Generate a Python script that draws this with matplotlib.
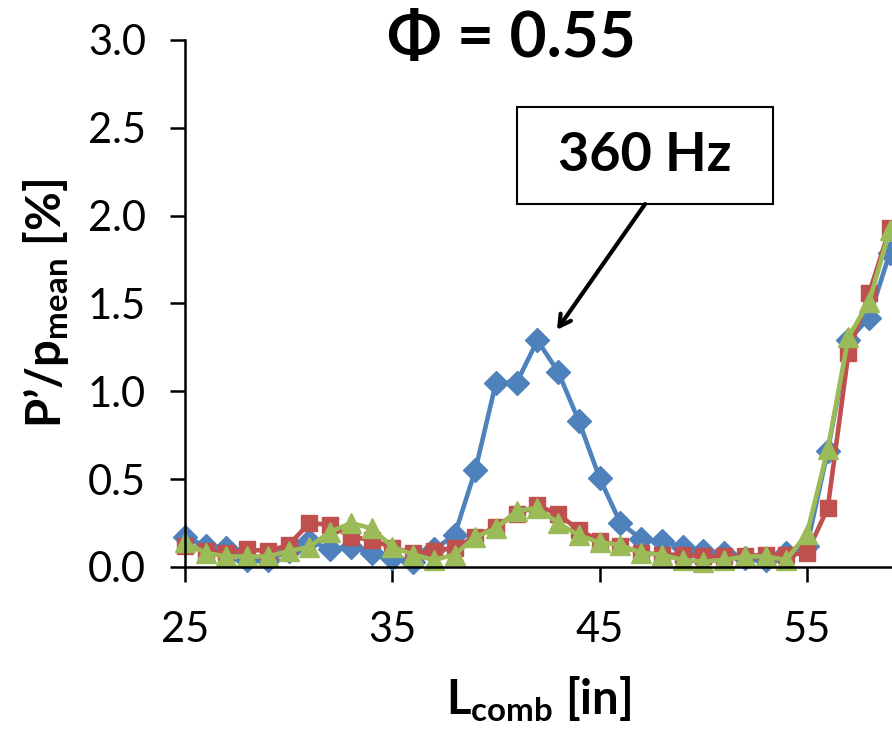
import matplotlib

matplotlib.use("Agg")

import matplotlib.pyplot as plt
from matplotlib.patches import Rectangle

FONT = ["Lato", "DejaVu Sans"]
plt.rcParams["font.family"] = FONT
plt.rcParams["mathtext.fontset"] = "custom"
plt.rcParams["mathtext.rm"] = "Lato"
plt.rcParams["mathtext.bf"] = "Lato:bold"

# combustor length sweep [in]
L_COMB = list(range(25, 60))

# p'/p_mean [%] for the three runs
RUN_BLUE = [0.17, 0.12, 0.11, 0.04, 0.04, 0.09, 0.15, 0.10, 0.115, 0.08,
            0.05, 0.03, 0.10, 0.18, 0.55, 1.05, 1.05, 1.29, 1.11, 0.83,
            0.505, 0.25, 0.16, 0.145, 0.115, 0.09, 0.08, 0.05, 0.04, 0.08,
            0.12, 0.66, 1.29, 1.42, 1.79]
RUN_RED = [0.12, 0.09, 0.08, 0.10, 0.09, 0.125, 0.25, 0.24, 0.17, 0.155,
           0.11, 0.08, 0.09, 0.11, 0.17, 0.23, 0.30, 0.35, 0.30, 0.21,
           0.15, 0.12, 0.08, 0.07, 0.07, 0.06, 0.06, 0.06, 0.07, 0.07,
           0.08, 0.335, 1.22, 1.56, 1.93]
RUN_GREEN = [0.14, 0.08, 0.06, 0.06, 0.06, 0.09, 0.115, 0.20, 0.25, 0.22,
             0.115, 0.07, 0.04, 0.07, 0.17, 0.22, 0.32, 0.335, 0.25, 0.18,
             0.14, 0.125, 0.08, 0.07, 0.04, 0.03, 0.04, 0.06, 0.06, 0.04,
             0.19, 0.67, 1.31, 1.51, 1.92]

X_TICKS = [25, 35, 45, 55]
Y_TICKS = [0.0, 0.5, 1.0, 1.5, 2.0, 2.5, 3.0]

fig = plt.figure(figsize=(8.92, 7.31), dpi=100)
ax = fig.add_axes([0.2074, 0.2244, 0.7926, 0.7209])

series = [
    (RUN_BLUE, "#4F81BD", "D", 12.5),
    (RUN_RED, "#C0504D", "s", 11.5),
    (RUN_GREEN, "#9BBB59", "^", 15),
]
for vals, col, mk, ms in series:
    ax.plot(L_COMB, vals, color=col, lw=3.3, marker=mk, ms=ms,
            mec=col, mfc=col, clip_on=False)

ax.set_xlim(25, 59.1)
ax.set_ylim(0, 3.0)
ax.set_xticks(X_TICKS)
ax.set_yticks(Y_TICKS)
ax.set_yticklabels([f"{v:.1f}" for v in Y_TICKS])

for side in ("top", "right"):
    ax.spines[side].set_visible(False)
for side in ("left", "bottom"):
    ax.spines[side].set_linewidth(1.8)
ax.tick_params(axis="both", direction="out", length=11, width=1.8,
               labelsize=30)
ax.tick_params(axis="y", pad=17)
ax.tick_params(axis="x", pad=21)

ax.set_xlabel(r"L$_{\mathbf{comb}}$ [in]", fontsize=34, fontweight="bold",
              labelpad=18)
ax.set_ylabel(r"P’/p$_{\mathbf{mean}}$ [%]", fontsize=34, fontweight="bold",
              labelpad=12)
fig.text(0.573, 0.948, "Φ = 0.55", ha="center", va="center",
         fontsize=46, fontweight="bold")

# callout box with arrow pointing at the 360 Hz peak
ax.add_patch(Rectangle((41.02, 2.066), 12.34, 0.552, fill=False,
                       edgecolor="black", lw=1.5, clip_on=False))
ax.text(47.19, 2.342, "360 Hz", ha="center", va="center",
        fontsize=39, fontweight="bold")
ax.annotate("", xy=(42.94, 1.35), xytext=(47.19, 2.066),
            arrowprops=dict(arrowstyle="->,head_length=0.8,head_width=0.45",
                            lw=3, color="black", shrinkA=0, shrinkB=0))

fig.savefig("out.png", dpi=100)
